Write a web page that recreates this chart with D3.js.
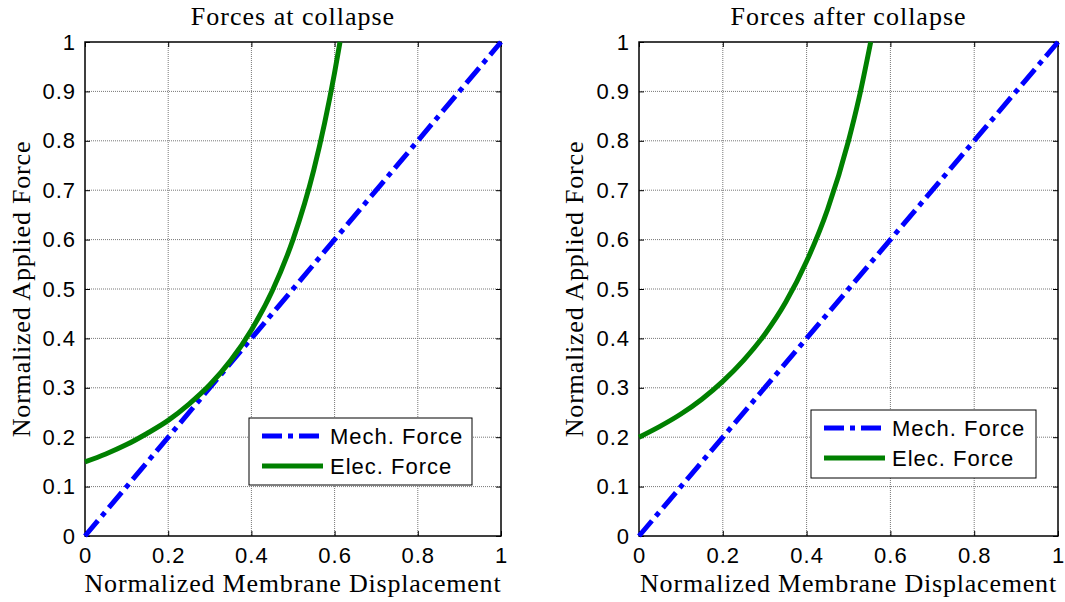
<!DOCTYPE html>
<html>
<head>
<meta charset="utf-8">
<script src="https://cdn.jsdelivr.net/npm/d3@7"></script>
<style>
  body { margin: 0; background: #fff; }
  svg { display: block; }
</style>
</head>
<body>
<div id="chart"></div>
<script>
var width = 1065,
    height = 602;

// tick values
var xTicks = [0, 0.2, 0.4, 0.6, 0.8, 1];
var yTicks = [0, 0.1, 0.2, 0.3, 0.4, 0.5, 0.6, 0.7, 0.8, 0.9, 1];

// mechanical force (straight line)
var mechX = [0, 1];
var mechY = [0, 1];

// electrostatic force, left panel (at collapse)
var elecAtX = [0, 0.05, 0.1, 0.15, 0.2, 0.25, 0.3, 0.35, 0.4, 0.45, 0.5, 0.55, 0.6, 0.613];
var elecAtY = [0.150, 0.166, 0.185, 0.208, 0.234, 0.267, 0.306, 0.355, 0.417, 0.496, 0.600, 0.741, 0.938, 1.0];

// electrostatic force, right panel (after collapse)
var elecAfterX = [0, 0.05, 0.1, 0.15, 0.2, 0.25, 0.3, 0.35, 0.4, 0.45, 0.5, 0.525, 0.553];
var elecAfterY = [0.200, 0.222, 0.247, 0.277, 0.313, 0.356, 0.408, 0.473, 0.556, 0.661, 0.800, 0.886, 1.0];

var titles = ["Forces at collapse", "Forces after collapse"];
var legendLabels = ["Mech. Force", "Elec. Force"];

var panels = [
  {title: titles[0], left: 85, right: 501, ex: elecAtX, ey: elecAtY,
   legend: {x: 249, y: 418, w: 223, h: 67}, ylab: 21},
  {title: titles[1], left: 639, right: 1058, ex: elecAfterX, ey: elecAfterY,
   legend: {x: 811, y: 410, w: 225, h: 68}, ylab: 574}
];
var plotTop = 42, plotBottom = 536;
var serif = "'Liberation Serif', 'Times New Roman', serif",
    sans = "'Liberation Sans', Arial, sans-serif";

var svg = d3.select("#chart")
  .append("svg")
  .attr("width", width)
  .attr("height", height);

panels.forEach(function(p) {
  var x = d3.scaleLinear().domain([0, 1]).range([p.left, p.right]);
  var y = d3.scaleLinear().domain([0, 1]).range([plotBottom, plotTop]);
  var g = svg.append("g");

  // grid
  g.selectAll(".gx").data(xTicks.slice(1, -1)).enter().append("line")
    .attr("x1", function(d){ return x(d) }).attr("x2", function(d){ return x(d) })
    .attr("y1", plotTop).attr("y2", plotBottom)
    .attr("stroke", "#777").attr("stroke-width", 1).attr("stroke-dasharray", "1,1");
  g.selectAll(".gy").data(yTicks.slice(1, -1)).enter().append("line")
    .attr("y1", function(d){ return y(d) }).attr("y2", function(d){ return y(d) })
    .attr("x1", p.left).attr("x2", p.right)
    .attr("stroke", "#777").attr("stroke-width", 1).attr("stroke-dasharray", "1,1");

  // axes (ticks pointing inward, labels outside)
  var xAxis = d3.axisBottom(x).tickValues(xTicks).tickSizeInner(-5).tickSizeOuter(0)
    .tickPadding(10).tickFormat(d3.format("~g"));
  var yAxis = d3.axisLeft(y).tickValues(yTicks).tickSizeInner(-5).tickSizeOuter(0)
    .tickPadding(9).tickFormat(d3.format("~g"));
  var xa = g.append("g").attr("transform", "translate(0," + plotBottom + ")").call(xAxis);
  var ya = g.append("g").attr("transform", "translate(" + p.left + ",0)").call(yAxis);
  // mirrored ticks on top and right
  g.append("g").attr("transform", "translate(0," + plotTop + ")")
    .call(d3.axisTop(x).tickValues(xTicks).tickSizeInner(-5).tickSizeOuter(0).tickFormat(""));
  g.append("g").attr("transform", "translate(" + p.right + ",0)")
    .call(d3.axisRight(y).tickValues(yTicks).tickSizeInner(-5).tickSizeOuter(0).tickFormat(""));
  g.selectAll(".domain").remove();
  g.selectAll(".tick line").attr("stroke", "#000");
  g.selectAll(".tick text")
    .attr("font-family", sans)
    .attr("font-size", 22).attr("letter-spacing", 1).attr("fill", "#000");
  xa.selectAll(".tick text").attr("dy", "0.75em");

  // box
  g.append("rect")
    .attr("x", p.left).attr("y", plotTop)
    .attr("width", p.right - p.left).attr("height", plotBottom - plotTop)
    .attr("fill", "none").attr("stroke", "#000").attr("stroke-width", 1.5);

  var line = d3.line()
    .x(function(d){ return x(d[0]) })
    .y(function(d){ return y(d[1]) })
    .curve(d3.curveMonotoneX);

  g.append("path")
    .datum(mechX.map(function(v, i){ return [v, mechY[i]] }))
    .attr("d", line)
    .attr("fill", "none").attr("stroke", "#0000ff").attr("stroke-width", 5)
    .attr("stroke-dasharray", "20,6,5,6");

  g.append("path")
    .datum(p.ex.map(function(v, i){ return [v, p.ey[i]] }))
    .attr("d", line)
    .attr("fill", "none").attr("stroke", "#008000").attr("stroke-width", 5);

  // title
  g.append("text")
    .attr("x", (p.left + p.right) / 2).attr("y", 25)
    .attr("text-anchor", "middle")
    .attr("font-family", serif).attr("font-size", 26).attr("letter-spacing", 1)
    .text(p.title);

  // x label
  g.append("text")
    .attr("x", (p.left + p.right) / 2).attr("y", 592)
    .attr("text-anchor", "middle")
    .attr("font-family", serif).attr("font-size", 26).attr("letter-spacing", 0.8)
    .text("Normalized Membrane Displacement");

  // y label
  g.append("text")
    .attr("transform", "translate(" + (p.ylab + 9) + "," + ((plotTop + plotBottom) / 2) + ") rotate(-90)")
    .attr("text-anchor", "middle")
    .attr("font-family", serif).attr("font-size", 26).attr("letter-spacing", 0.8)
    .text("Normalized Applied Force");

  // legend
  var L = p.legend;
  var lg = g.append("g");
  lg.append("rect")
    .attr("x", L.x).attr("y", L.y).attr("width", L.w).attr("height", L.h)
    .attr("fill", "#fff").attr("stroke", "#000").attr("stroke-width", 1);
  var rowY = [L.y + 18, L.y + 48];
  var styles = [{c: "#0000ff", dash: "20,6,5,6"}, {c: "#008000", dash: null}];
  legendLabels.forEach(function(lab, i) {
    lg.append("line")
      .attr("x1", L.x + 13).attr("x2", L.x + 74)
      .attr("y1", rowY[i]).attr("y2", rowY[i])
      .attr("stroke", styles[i].c).attr("stroke-width", 5)
      .attr("stroke-dasharray", styles[i].dash);
    lg.append("text")
      .attr("x", L.x + 81).attr("y", rowY[i])
      .attr("dy", "0.36em")
      .attr("font-family", sans)
      .attr("font-size", 22).attr("letter-spacing", 1)
      .text(lab);
  });
});
</script>
</body>
</html>
